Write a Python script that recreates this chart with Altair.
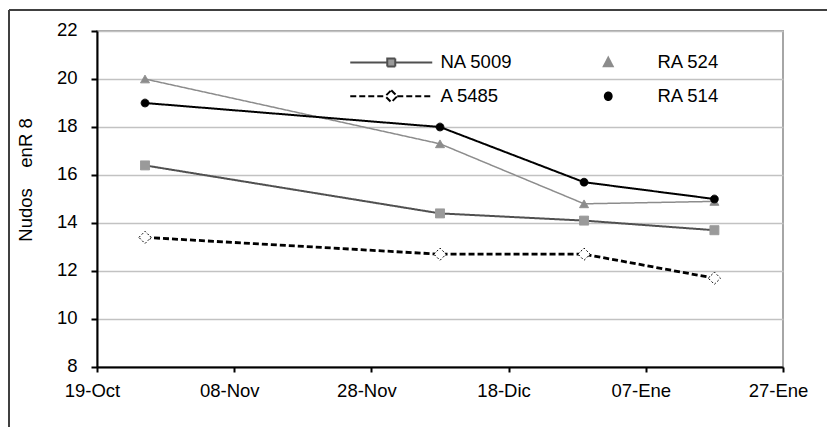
import pandas as pd
import altair as alt

# ---------------------------------------------------------------------------
# Datos
# ---------------------------------------------------------------------------
fechas = ["2005-10-26", "2005-12-08", "2005-12-29", "2006-01-17"]
na_5009 = [16.4, 14.4, 14.1, 13.7]
a_5485 = [13.4, 12.7, 12.7, 11.7]
ra_524 = [20.0, 17.3, 14.8, 14.9]
ra_514 = [19.0, 18.0, 15.7, 15.0]

# orden de la leyenda (se llena por columnas): NA 5009 / A 5485 | RA 524 / RA 514
series = ["NA 5009", "A 5485", "RA 524", "RA 514"]
valores = [na_5009, a_5485, ra_524, ra_514]

ticks_x = ["2005-10-19", "2005-11-08", "2005-11-28", "2005-12-18", "2006-01-07", "2006-01-27"]
ticks_y = [8, 10, 12, 14, 16, 18, 20, 22]
meses = ["Ene", "Feb", "Mar", "Abr", "May", "Jun", "Jul", "Ago", "Sep", "Oct", "Nov", "Dic"]

df = pd.DataFrame(
    [{"serie": s, "fecha": f, "nudos": v}
     for s, vals in zip(series, valores) for f, v in zip(fechas, vals)]
)

def ms(t):
    return int(pd.Timestamp(t, tz="UTC").timestamp() * 1000)

ticks_ms = [ms(t) for t in ticks_x]
label_expr = ("utcFormat(datum.value, '%d') + '-' + ["
              + ",".join("'%s'" % m for m in meses) + "][utcmonth(datum.value)]")

FONT = "Liberation Sans"
FS = 18.5

x_enc = alt.X(
    "fecha:T",
    scale=alt.Scale(domain=[ticks_ms[0], ticks_ms[-1]]),
    axis=alt.Axis(values=ticks_ms, labelExpr=label_expr, title=None, grid=False,
                  labelFlush=False, labelOverlap=False, labelOffset=-5,
                  labelPadding=9, tickSize=5),
)
y_enc = alt.Y(
    "nudos:Q",
    scale=alt.Scale(domain=[8, 22], nice=False, zero=False),
    axis=alt.Axis(values=ticks_y, title="Nudos\u00a0\u00a0\u00a0\u00a0enR 8",
                  grid=True, gridColor="#c2c2c2", gridWidth=1.5,
                  tickSize=6, labelPadding=14, labelOffset=-2,
                  titleX=-72, titleY=148.5, titleAngle=-90,
                  titleAlign="center", titleBaseline="middle"),
)

# ---------------------------------------------------------------------------
# Capas de datos
# ---------------------------------------------------------------------------
base = alt.Chart(df)

lineas = base.mark_line().encode(
    x=x_enc,
    y=y_enc,
    stroke=alt.Stroke("serie:N", legend=None,
                      scale=alt.Scale(domain=series,
                                      range=["#505050", "#000000", "#8c8c8c", "#000000"])),
    strokeDash=alt.StrokeDash("serie:N", legend=None,
                              scale=alt.Scale(domain=series,
                                              range=[[1, 0], [6, 3], [1, 0], [1, 0]])),
    strokeWidth=alt.StrokeWidth("serie:N", legend=None,
                                scale=alt.Scale(type="ordinal", domain=series,
                                                range=[2, 2.8, 1.5, 2])),
)

puntos = base.mark_point(strokeWidth=1, opacity=1).encode(
    x="fecha:T",
    y="nudos:Q",
    shape=alt.Shape("serie:N", legend=None,
                    scale=alt.Scale(domain=series,
                                    range=["square", "diamond", "triangle-up", "circle"])),
    fill=alt.Fill("serie:N", legend=None,
                  scale=alt.Scale(domain=series,
                                  range=["#9a9a9a", "#ffffff", "#8c8c8c", "#000000"])),
    stroke=alt.Stroke("serie:N", legend=None,
                      scale=alt.Scale(domain=series,
                                      range=["#9a9a9a", "#000000", "#8c8c8c", "#000000"])),
    strokeDash=alt.StrokeDash("serie:N", legend=None,
                              scale=alt.Scale(domain=series,
                                              range=[[1, 0], [2, 2], [1, 0], [1, 0]])),
    size=alt.Size("serie:N", legend=None,
                  scale=alt.Scale(type="ordinal", domain=series,
                                  range=[81, 150, 80, 60])),
)

# ---------------------------------------------------------------------------
# Leyenda (capa sin marcas, solo escalas)
# ---------------------------------------------------------------------------
simbolos = [
    "M-10.25,0H-1M1,0H10.25M-1,-1H1V1H-1Z",
    "M-10.25,0H-1.5M1.5,0H10.25M0,-1.5L1.5,0L0,1.5L-1.5,0Z",
    "M0,-1.15L1.1,0.95L-1.1,0.95Z",
    "M-0.85,0A0.85,0.95,0,1,0,0.85,0A0.85,0.95,0,1,0,-0.85,0Z",
]
ley = alt.Legend(title=None, orient="none", legendX=285, legendY=22, columns=2,
                 symbolSize=64, symbolStrokeWidth=2, labelOffset=40,
                 columnPadding=86, rowPadding=14, labelFontSize=FS,
                 labelFont=FONT, labelColor="black", padding=0)

leyenda = base.transform_filter("false").mark_point(strokeWidth=2, opacity=1).encode(
    x="fecha:T",
    y="nudos:Q",
    shape=alt.Shape("serie:N", legend=ley,
                    scale=alt.Scale(domain=series, range=simbolos)),
    fill=alt.Fill("serie:N", legend=ley,
                  scale=alt.Scale(domain=series,
                                  range=["#9a9a9a", "#ffffff", "#8c8c8c", "#000000"])),
    stroke=alt.Stroke("serie:N", legend=ley,
                      scale=alt.Scale(domain=series,
                                      range=["#505050", "#000000", "#8c8c8c", "#000000"])),
    strokeDash=alt.StrokeDash("serie:N", legend=ley,
                              scale=alt.Scale(domain=series,
                                              range=[[1, 0], [6, 3], [1, 0], [1, 0]])),
)

# marco del area del grafico (recortado a la derecha y abajo)
marco_df = pd.DataFrame({"k": [0]})
marco_izq = alt.Chart(marco_df).mark_rule(color="#404040", strokeWidth=2).encode(
    x=alt.value(-88), y=alt.value(-21), y2=alt.value(430))
marco_sup = alt.Chart(marco_df).mark_rule(color="#404040", strokeWidth=2).encode(
    x=alt.value(-88), x2=alt.value(800), y=alt.value(-21))

chart = (
    alt.layer(lineas, puntos, leyenda, marco_izq, marco_sup)
    .resolve_scale(shape="independent", fill="independent", stroke="independent",
                   strokeDash="independent", size="independent",
                   strokeWidth="independent")
    .properties(width=686, height=336,
                autosize=alt.AutoSizeParams(type="none"),
                padding={"left": 89, "top": 23, "right": 44, "bottom": 60})
    .configure_view(stroke="#a6a6a6", strokeWidth=2)
    .configure_axis(labelFont=FONT, labelFontSize=FS, labelColor="black",
                    titleFont=FONT, titleFontSize=FS, titleColor="black",
                    titleFontWeight="normal",
                    domainColor="black", domainWidth=2,
                    tickColor="black", tickWidth=2)
)

chart.save("out.html", embed_options={"renderer": "svg", "actions": False})
